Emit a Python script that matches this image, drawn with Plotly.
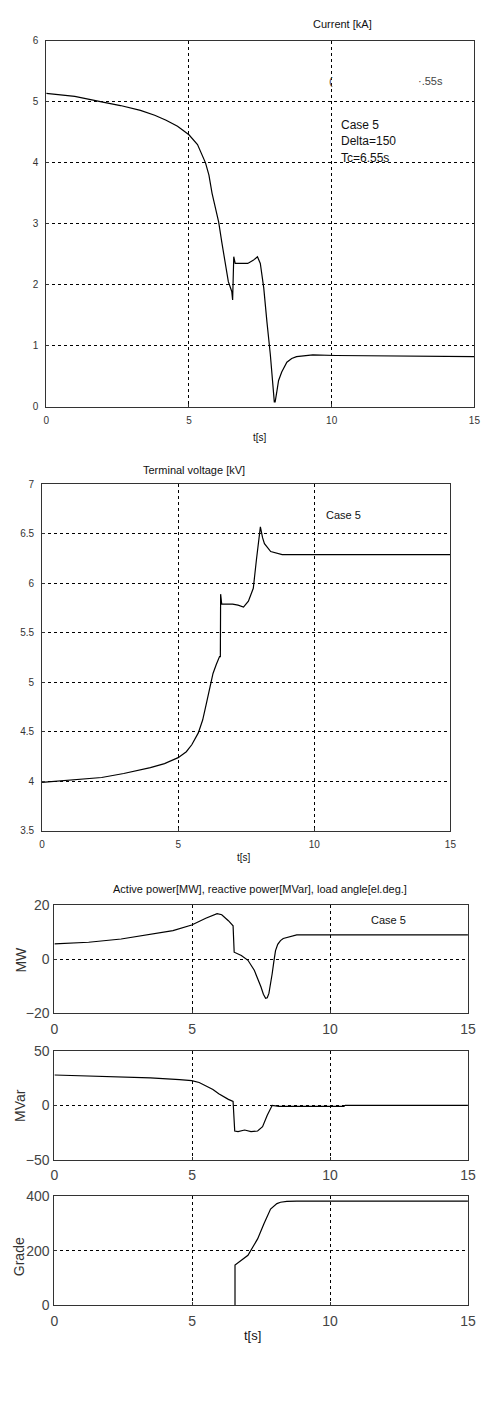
import plotly.graph_objects as go

W, H = 486, 1401

# ---------------- data ----------------
t_cur = [0, 1.0, 1.94, 2.6, 3.3, 3.8, 4.2, 4.6, 5.0, 5.3, 5.58, 5.7, 5.81, 5.92, 6.04, 6.15, 6.27, 6.38, 6.5, 6.53, 6.57, 6.62, 6.8, 7.06, 7.25, 7.4, 7.5, 7.62, 7.73, 7.85, 7.99, 8.02, 8.08, 8.14, 8.25, 8.43, 8.6, 8.77, 9.34, 10.14, 15]
i_cur = [5.14, 5.09, 5.0, 4.94, 4.86, 4.78, 4.7, 4.6, 4.46, 4.3, 4.0, 3.8, 3.5, 3.25, 3.03, 2.7, 2.32, 2.05, 1.89, 1.75, 2.46, 2.35, 2.35, 2.35, 2.4, 2.46, 2.35, 1.95, 1.4, 0.86, 0.08, 0.08, 0.25, 0.43, 0.57, 0.73, 0.79, 0.82, 0.85, 0.84, 0.82]

t_volt = [0, 1.0, 2.19, 3.0, 3.98, 4.5, 5.0, 5.3, 5.5, 5.74, 5.9, 6.04, 6.15, 6.28, 6.4, 6.52, 6.55, 6.56, 6.6, 7.0, 7.2, 7.4, 7.58, 7.76, 7.88, 8.02, 8.1, 8.17, 8.4, 8.82, 15]
u_volt = [3.99, 4.01, 4.04, 4.08, 4.14, 4.18, 4.24, 4.3, 4.37, 4.49, 4.62, 4.79, 4.93, 5.09, 5.18, 5.26, 5.26, 5.89, 5.79, 5.79, 5.78, 5.76, 5.82, 5.95, 6.25, 6.57, 6.46, 6.40, 6.32, 6.29, 6.29]

t_p = [0, 1.24, 2.42, 3.48, 4.3, 4.98, 5.49, 5.9, 6.07, 6.31, 6.48, 6.52, 6.78, 7.02, 7.25, 7.49, 7.58, 7.66, 7.72, 7.78, 7.84, 7.9, 7.96, 8.02, 8.1, 8.2, 8.3, 8.43, 8.6, 8.79, 15]
p_mw = [5.7, 6.3, 7.5, 9.1, 10.6, 12.7, 15.2, 16.9, 16.5, 14.3, 12.4, 2.6, 1.4, -0.4, -4.1, -10.2, -13.0, -14.5, -14.3, -12.7, -9.5, -5.3, -0.8, 3.2, 5.5, 6.9, 7.7, 8.1, 8.5, 9.0, 9.0]

t_q = [0, 1.71, 3.48, 4.54, 4.98, 5.25, 5.49, 5.75, 5.96, 6.15, 6.31, 6.48, 6.54, 6.66, 6.9, 7.13, 7.37, 7.55, 7.72, 7.9, 8.14, 10.5, 10.55, 15]
q_mvar = [27.9, 26.7, 25.2, 23.6, 22.7, 21.0, 18.2, 14.5, 10.6, 7.5, 5.5, 3.6, -23.6, -24.2, -22.7, -24.2, -23.6, -19.7, -9.1, 0.0, -0.9, -0.9, 0.0, 0.0]

t_ang = [6.55, 6.55, 7.02, 7.37, 7.6, 7.84, 8.07, 8.2, 8.43, 8.79, 15]
ang = [0, 147, 183, 243, 298, 352, 372, 377, 380, 381, 381]

x_ticks = [0, 5, 10, 15]

# ---------------- helpers ----------------
def px(x):
    return x / W

def py(y):
    return 1 - y / H

FONT = "Liberation Sans, Arial, sans-serif"
LINE = dict(color="black", width=1.2)

fig = go.Figure()
panels = [
    (t_cur, i_cur), (t_volt, u_volt), (t_p, p_mw), (t_q, q_mvar), (t_ang, ang)
]
for k, (tx, vy) in enumerate(panels, start=1):
    sfx = "" if k == 1 else str(k)
    fig.add_trace(go.Scatter(x=tx, y=vy, mode="lines", line=LINE,
                             xaxis="x" + sfx, yaxis="y" + sfx,
                             showlegend=False, hoverinfo="skip"))

domains = [
    ((43.3, 482.3), (33.3, 403.3)),
    ((39.0, 457.7), (481.7, 832.5)),
    ((51.7, 475.7), (907.7, 1016.7)),
    ((51.7, 475.7), (1055.0, 1165.0)),
    ((51.7, 475.7), (1201.7, 1312.3)),
]
yranges = [(0, 6), (3.5, 7), (-20, 20), (-50, 50), (0, 400)]
yticks = [
    [0, 1, 2, 3, 4, 5, 6],
    [3.5, 4, 4.5, 5, 5.5, 6, 6.5, 7],
    [-20, 0, 20],
    [-50, 0, 50],
    [0, 200, 400],
]
layout = {}
for k in range(5):
    (x0, x1), (y0, y1) = domains[k]
    sfx = "" if k == 0 else str(k + 1)
    small = k < 2
    tfont = dict(family=FONT, size=10 if small else 14, color="#333" if small else "#444")
    common = dict(
        showline=True, mirror=True, linecolor="#333", linewidth=1,
        showgrid=True, gridcolor="black", gridwidth=1, griddash="3px,3px",
        zeroline=False, ticks="inside", ticklen=3, tickcolor="#333",
        tickfont=tfont, fixedrange=True,
    )
    layout["xaxis" + sfx] = dict(
        common, domain=[px(x0), px(x1)], range=[0, 15], tickvals=x_ticks,
        anchor="y" + sfx, ticklabelstandoff=4 if small else 3,
    )
    layout["yaxis" + sfx] = dict(
        common, domain=[py(y1), py(y0)], range=list(yranges[k]), tickvals=yticks[k],
        anchor="x" + sfx, ticklabelstandoff=5 if small else 1,
    )

fig.update_layout(**layout)

ann = []
def text(x, y, s, size=11, xanchor="center", angle=0, color="#111"):
    ann.append(dict(x=px(x), y=py(y), xref="paper", yref="paper", text=s,
                    showarrow=False, xanchor=xanchor, yanchor="middle",
                    textangle=angle, font=dict(family=FONT, size=size, color=color)))

text(347, 16, "Current [kA]", 11)
text(262, 434, "t[s]", 10)
text(335, 74, "(", 11, color="#444")
text(437, 74, "·.55s", 11, color="#444")
text(343, 118, "Case 5", 12, xanchor="left")
text(343, 135, "Delta=150", 12, xanchor="left")
text(343, 152, "Tc=6.55s", 12, xanchor="left")

text(195, 467, "Terminal voltage [kV]", 11)
text(348, 513, "Case 5", 11)
text(246, 859, "t[s]", 10)

text(262, 891, "Active power[MW], reactive power[MVar], load angle[el.deg.]", 11)
text(394, 923, "Case 5", 11)
text(17, 963, "MW", 14, angle=-90, color="#333")
text(17, 1110, "MVar", 14, angle=-90, color="#333")
text(15, 1263, "Grade", 14, angle=-90, color="#333")
text(255, 1343, "t[s]", 13)

fig.update_layout(
    width=W, height=H, margin=dict(l=0, r=0, t=0, b=0),
    paper_bgcolor="white", plot_bgcolor="white",
    annotations=ann, showlegend=False,
)

fig.write_html("out.html")
